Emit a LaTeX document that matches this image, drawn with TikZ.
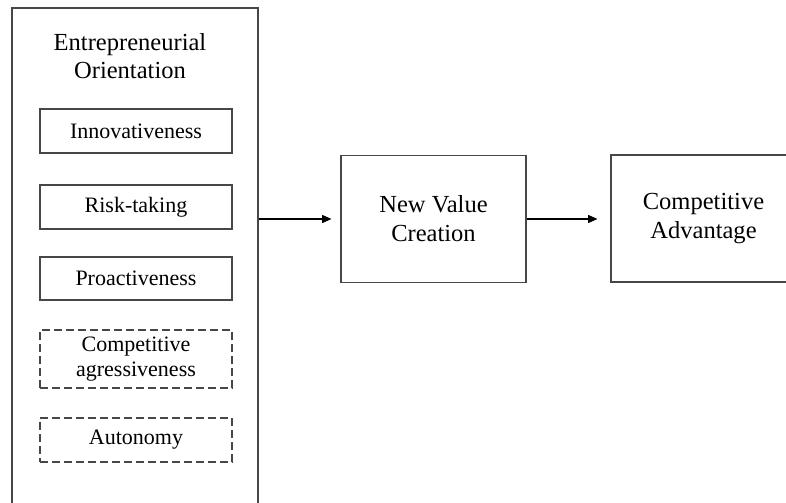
\documentclass[tikz,border=0pt]{standalone}
\usepackage{fontspec}
\setmainfont{Liberation Serif}
\usetikzlibrary{arrows.meta}
\begin{document}
\begin{tikzpicture}[x=0.75pt,y=-0.75pt,
  frame/.style={draw=black!72,line width=0.8pt},
  factor/.style={frame,minimum width=144pt,align=center,inner sep=0pt,
    font=\fontsize{16.5}{18.75}\selectfont},
  optional/.style={factor,dash pattern=on 6pt off 3pt},
  stage/.style={frame,minimum width=138.75pt,minimum height=95.25pt,align=center,
    inner sep=0pt,font=\fontsize{18.4}{21.75}\selectfont},
  link/.style={draw=black,line width=0.8pt,-{Triangle[length=7pt,width=6pt]}}]
\useasboundingbox (0,0) rectangle (786,503);
\clip (0,0) rectangle (786,503);
% outer construct
\node[frame,minimum width=184.5pt,minimum height=384pt,inner sep=0pt] (eo) at (135,264) {};
\node[align=center,inner sep=0pt,font=\fontsize{18.4}{21}\selectfont] (eotitle) at (130,56)
  {Entrepreneurial\\Orientation};
% dimensions
\node[factor,minimum height=33pt] (inn) at (136,131) {Innovativeness};
\node[factor,minimum height=33pt] (risk) at (136,207) {Risk-taking};
\node[factor,minimum height=32.25pt] (pro) at (136,278.5) {Proactiveness};
\node[optional,minimum height=43.5pt] (agr) at (136,359) {Competitive\\agressiveness};
\node[optional,minimum height=33pt] (aut) at (136,440) {Autonomy};
% outcomes
\node[stage] (nvc) at (433.5,219) {New Value\\Creation};
\node[stage] (ca) at (703.5,218.5) {Competitive\\Advantage};
% paths
\coordinate (eoout) at (eo.east |- nvc.west);
\coordinate (cain) at (nvc.east -| ca.west);
\draw[link,shorten >=6.75pt] (eoout) -- (nvc.west);
\draw[link,shorten >=9.75pt] (nvc.east) -- (cain);
\end{tikzpicture}
\end{document}
